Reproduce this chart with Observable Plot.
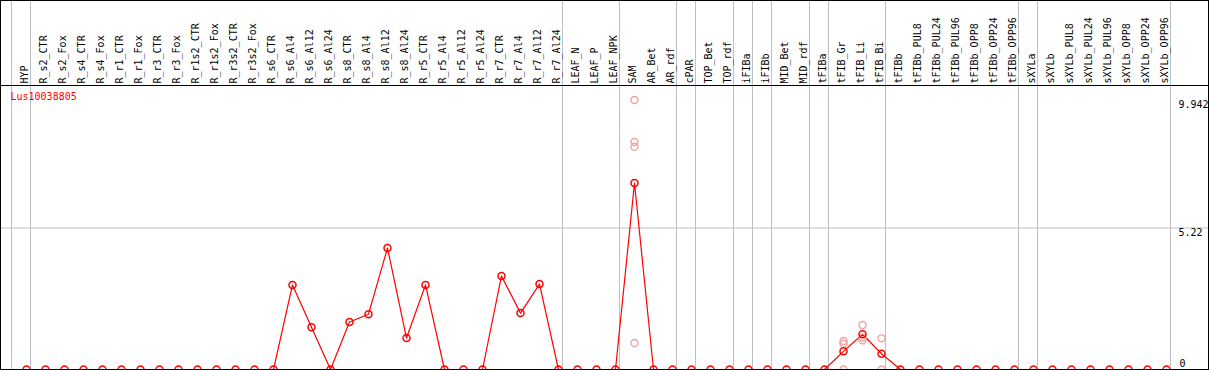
<!DOCTYPE html>
<html>
<head>
<meta charset="utf-8">
<script src="https://cdn.jsdelivr.net/npm/d3@7"></script>
<script src="https://cdn.jsdelivr.net/npm/@observablehq/plot@0.6"></script>
<style>
  html, body { margin: 0; padding: 0; background: white; }
  #chart { width: 1209px; height: 370px; overflow: hidden; position: relative; }
  #chart svg { outline: 1px solid black; outline-offset: -1px; }
</style>
</head>
<body>
<div id="chart"></div>
<script>
const geneName = "Lus10038805";

const categories = [
  "HYP", "R_s2_CTR", "R_s2_Fox", "R_s4_CTR", "R_s4_Fox", "R_r1_CTR", "R_r1_Fox", "R_r3_CTR", "R_r3_Fox",
  "R_r1s2_CTR", "R_r1s2_Fox", "R_r3s2_CTR", "R_r3s2_Fox", "R_s6_CTR", "R_s6_Al4", "R_s6_Al12", "R_s6_Al24",
  "R_s8_CTR", "R_s8_Al4", "R_s8_Al12", "R_s8_Al24", "R_r5_CTR", "R_r5_Al4", "R_r5_Al12", "R_r5_Al24",
  "R_r7_CTR", "R_r7_Al4", "R_r7_Al12", "R_r7_Al24", "LEAF_N", "LEAF_P", "LEAF_NPK", "SAM", "AR_Bet", "AR_rdf",
  "cPAR", "TOP_Bet", "TOP_rdf", "iFIBa", "iFIBb", "MID_Bet", "MID_rdf", "tFIBa", "tFIB_Gr", "tFIB_Li", "tFIB_Bi",
  "tFIBb", "tFIBb_PUL8", "tFIBb_PUL24", "tFIBb_PUL96", "tFIBb_OPP8", "tFIBb_OPP24", "tFIBb_OPP96",
  "sXYLa", "sXYLb", "sXYLb_PUL8", "sXYLb_PUL24", "sXYLb_PUL96", "sXYLb_OPP8", "sXYLb_OPP24", "sXYLb_OPP96"
];

const meanValues = [
  0, 0, 0, 0, 0, 0, 0, 0, 0,
  0, 0, 0, 0, 0, 3.12, 1.56, 0,
  1.75, 2.04, 4.48, 1.16, 3.12, 0, 0, 0,
  3.45, 2.08, 3.15, 0, 0, 0, 0, 6.88, 0, 0,
  0, 0, 0, 0, 0, 0, 0, 0, 0.67, 1.30, 0.58,
  0, 0, 0, 0, 0, 0, 0,
  0, 0, 0, 0, 0, 0, 0, 0
];

const replicateCategories = ["SAM", "SAM", "SAM", "SAM",
  "tFIB_Gr", "tFIB_Gr", "tFIB_Gr", "tFIB_Li", "tFIB_Li", "tFIB_Li", "tFIB_Bi", "tFIB_Bi"];
const replicateValues = [9.942, 8.39, 8.22, 0.98,
  1.05, 0.95, 0, 1.64, 1.08, 1.18, 1.15, 0];

const groupStarts = ["HYP", "R_s2_CTR", "LEAF_N", "SAM", "cPAR", "TOP_Bet", "iFIBa", "iFIBb",
  "MID_Bet", "tFIBa", "tFIB_Gr", "tFIBb", "sXYLa", "sXYLb"];

const yTickValues = [9.942, 5.22, 0];
const yTickLabels = ["9.942", "5.22", "0"];
const yMax = 10.44;

const rows = categories.map((c, i) => ({cat: c, idx: i, value: meanValues[i]}));
const reps = replicateCategories.map((c, i) => ({idx: categories.indexOf(c), value: replicateValues[i]}));
const boundaries = groupStarts.map(c => categories.indexOf(c)).concat([categories.length]);

const font = "DejaVu Sans Mono";
const chart = Plot.plot({
  width: 1209,
  height: 370,
  marginTop: 0, marginBottom: 0, marginLeft: 0, marginRight: 0,
  style: {fontFamily: font, fontSize: "10px", background: "white"},
  x: {type: "linear", domain: [0, categories.length - 1], range: [26, 26 + 19 * (categories.length - 1)], axis: null},
  y: {type: "linear", domain: [0, yMax], range: [369, 86], axis: null},
  marks: [
    Plot.ruleX(boundaries, {x: d => d, dx: -15, stroke: "#c0c0c0", strokeWidth: 1}),
    Plot.ruleY([yTickValues[1]], {stroke: "#c0c0c0", strokeWidth: 1}),
    Plot.ruleY([yMax], {stroke: "black", strokeWidth: 1, dy: -1}),
    Plot.lineY(rows, {x: "idx", y: "value", stroke: "#ff0000", strokeWidth: 1.2}),
    Plot.dot(reps, {x: "idx", y: "value", r: 3.5, stroke: "#f4a0a0", strokeWidth: 1.4, fill: "none"}),
    Plot.dot(rows, {x: "idx", y: "value", r: 3.5, stroke: "#ff0000", strokeWidth: 1.5, fill: "none"}),
    Plot.text(rows, {x: "idx", y: () => yMax, text: "cat", rotate: -90, textAnchor: "start",
      dx: -2, dy: -3, fill: "black", fontFamily: font, fontSize: 10}),
    Plot.text([geneName], {x: () => 0, y: () => yMax, text: d => d, dx: -16, dy: 6, textAnchor: "start",
      lineAnchor: "top", fill: "#ff0000", fontFamily: font, fontSize: 10}),
    Plot.text(yTickValues.slice(0, 2), {x: () => categories.length - 1, y: d => d,
      text: (d, i) => yTickLabels[i], dx: 12, dy: 1, textAnchor: "start", lineAnchor: "top",
      fill: "black", fontFamily: font, fontSize: 10}),
    Plot.text(yTickValues.slice(2), {x: () => categories.length - 1, y: d => d,
      text: (d, i) => yTickLabels[2 + i], dx: 13, dy: -3, textAnchor: "start", lineAnchor: "bottom",
      fill: "black", fontFamily: font, fontSize: 10})
  ]
});
document.getElementById("chart").appendChild(chart);
</script>
</body>
</html>
